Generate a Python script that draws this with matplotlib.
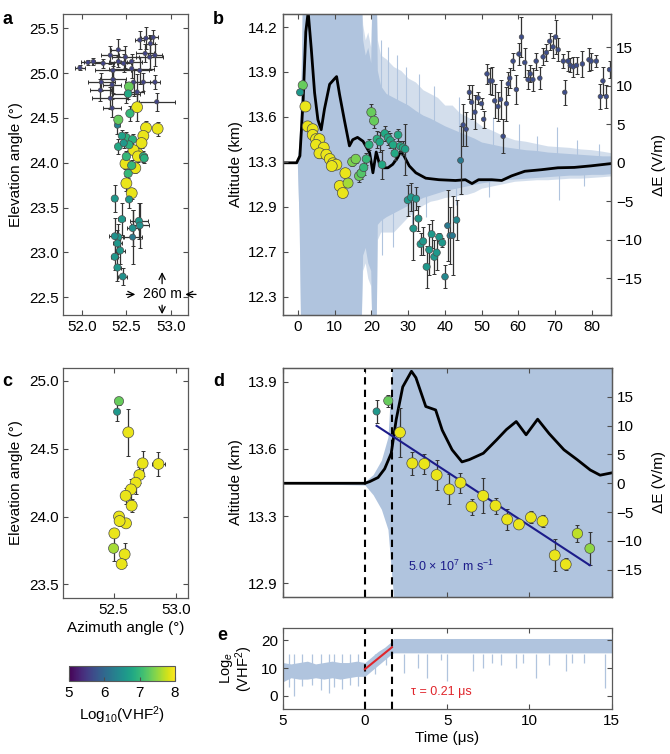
import numpy as np
import matplotlib
matplotlib.use('Agg')
import matplotlib.pyplot as plt
from matplotlib.colors import Normalize
from matplotlib.cm import ScalarMappable

plt.rcParams['font.family'] = ['Liberation Sans', 'DejaVu Sans']
plt.rcParams['mathtext.fontset'] = 'custom'
plt.rcParams['mathtext.rm'] = 'Liberation Sans'
plt.rcParams['mathtext.it'] = 'Liberation Sans:italic'
plt.rcParams['font.size'] = 11

# ---------------- panel a : sources in azimuth / elevation ----------------
# weak (late) sources
a_dark_az = [51.98, 52.13, 52.07, 52.24, 52.35, 52.41, 52.47, 52.56, 52.65, 52.72, 52.80, 52.71,
             52.82, 52.76, 52.41, 52.35, 52.22, 52.34, 52.32, 52.34, 52.21, 52.58, 52.69, 52.82,
             52.62, 52.84, 52.50, 52.65, 52.49, 52.77, 52.32, 52.56, 52.40]
a_dark_el = [25.06, 25.13, 25.12, 25.11, 25.03, 25.13, 25.11, 25.13, 25.37, 25.39, 25.40, 25.22,
             25.20, 25.18, 25.26, 24.93, 24.90, 24.87, 24.72, 24.61, 24.81, 24.90, 24.90, 24.90,
             24.79, 24.68, 24.77, 25.03, 25.18, 25.33, 25.20, 25.05, 24.42]
a_dark_az_err = [0.06, 0.10, 0.08, 0.12, 0.20, 0.10, 0.08, 0.12, 0.05, 0.06, 0.05, 0.10, 0.08,
                 0.15, 0.08, 0.15, 0.15, 0.10, 0.20, 0.10, 0.12, 0.10, 0.12, 0.06, 0.08, 0.20,
                 0.15, 0.10, 0.15, 0.05, 0.10, 0.25, 0.03]
a_dark_el_err = [0.03, 0.04, 0.03, 0.05, 0.08, 0.06, 0.10, 0.08, 0.10, 0.12, 0.08, 0.10, 0.12,
                 0.15, 0.12, 0.15, 0.10, 0.15, 0.12, 0.10, 0.12, 0.15, 0.10, 0.08, 0.20, 0.10,
                 0.10, 0.15, 0.12, 0.10, 0.10, 0.10, 0.10]
a_dark_v = [5.6] * 32 + [6.3]

# strong sources
a_az = [52.53, 52.52, 52.62, 52.54, 52.41, 52.72, 52.85, 52.45, 52.50, 52.69, 52.57, 52.67,
        52.41, 52.47, 52.53, 52.63, 52.58, 52.69, 52.50, 52.63, 52.70, 52.49, 52.56, 52.60,
        52.52, 52.50, 52.56, 52.53, 52.37, 52.45, 52.64, 52.57, 52.65, 52.57, 52.37, 52.41,
        52.40, 52.43, 52.37, 52.40, 52.46]
a_el = [24.85, 24.77, 24.62, 24.55, 24.48, 24.39, 24.38, 24.30, 24.28, 24.30, 24.26, 24.22,
        24.18, 24.22, 24.20, 24.10, 24.14, 24.07, 24.07, 24.07, 24.05, 23.99, 23.97, 23.94,
        23.88, 23.77, 23.66, 23.59, 23.60, 23.37, 23.35, 23.27, 23.30, 23.17, 23.18, 23.17,
        23.10, 23.02, 22.95, 22.83, 22.73]
a_az_err = [0.02, 0.02, 0.03, 0.02, 0.03, 0.03, 0.04, 0.02, 0.03, 0.03, 0.02, 0.03, 0.02,
            0.02, 0.03, 0.02, 0.02, 0.04, 0.02, 0.02, 0.03, 0.02, 0.02, 0.02, 0.02, 0.02,
            0.02, 0.03, 0.03, 0.04, 0.10, 0.06, 0.10, 0.10, 0.06, 0.05, 0.05, 0.05, 0.04,
            0.04, 0.05]
a_el_err = [0.03, 0.06, 0.15, 0.08, 0.05, 0.08, 0.08, 0.06, 0.06, 0.08, 0.06, 0.06, 0.08,
            0.06, 0.06, 0.06, 0.06, 0.06, 0.06, 0.06, 0.05, 0.06, 0.06, 0.05, 0.05, 0.08,
            0.06, 0.10, 0.15, 0.18, 0.20, 0.20, 0.25, 0.30, 0.20, 0.15, 0.15, 0.15, 0.15,
            0.15, 0.10]
a_v = [7.3, 6.8, 7.9, 7.0, 7.3, 7.9, 7.9, 6.7, 6.9, 7.9, 6.9, 7.9, 6.8, 6.6, 6.9, 7.9, 7.9,
       6.9, 7.0, 7.9, 6.9, 7.9, 7.0, 7.9, 7.0, 7.9, 7.9, 6.6, 6.6, 6.6, 6.6, 6.5, 6.5, 6.2,
       6.5, 6.6, 6.6, 6.6, 6.6, 6.6, 6.5]

# ---------------- panel b : altitude vs time, 0-85 us ----------------
b_t = [1.28, 0.55, 2.0, 2.62, 3.99, 3.99, 4.9, 5.82, 4.9, 7.0, 5.82, 7.71, 8.64, 9.54, 10.44,
       9.18, 12.89, 11.36, 13.62, 12.2,
       14.8, 15.72, 16.62, 17.25, 17.9, 18.6, 19.35, 19.98, 20.71, 21.53, 22.26, 22.89, 23.62,
       24.52, 25.15, 25.89, 26.36, 27.25, 27.87, 28.61, 29.2,
       29.9, 30.8, 32.15, 32.8, 31.43, 33.4, 34.1, 35.04, 35.75, 36.4, 37.13, 37.79, 38.5,
       39.3, 40.05, 40.76, 41.4, 42.1, 43.2, 44.3,
       45.0, 45.8, 46.7, 47.3, 48.2, 49.1, 50.0, 50.6, 51.5, 52.2, 52.9, 53.6, 54.5, 55.2,
       55.9, 56.8, 57.3, 57.7, 58.6, 59.5, 60.2, 60.9, 61.8, 62.7, 63.3, 64.0, 64.9, 65.9,
       66.8, 67.7, 68.6, 69.5, 70.2, 70.9, 72.3, 72.7, 73.6, 74.2, 75.0, 75.9, 77.5, 79.3,
       79.9, 81.3, 82.4, 83.1, 84.0, 84.9]
b_alt = [13.79, 13.74, 13.64, 13.50, 13.48, 13.44, 13.41, 13.41, 13.37, 13.35, 13.31, 13.30,
         13.27, 13.24, 13.23, 13.22, 13.17, 13.08, 13.10, 13.03,
         13.25, 13.27, 13.15, 13.17, 13.21, 13.27, 13.37, 13.60, 13.54, 13.41, 13.39, 13.23,
         13.45, 13.42, 13.40, 13.37, 13.31, 13.44, 13.36, 13.35, 13.34,
         12.98, 13.00, 12.99, 12.85, 12.78, 12.67, 12.69, 12.51, 12.63, 12.74, 12.58, 12.61,
         12.72, 12.68, 12.44, 12.80, 12.73, 12.73, 12.84, 13.26,
         13.51, 13.48, 13.74, 13.67, 13.60, 13.70, 13.66, 13.55, 13.87, 13.82, 13.82, 13.68,
         13.64, 13.69, 13.43, 13.66, 13.80, 13.84, 13.96, 13.76, 14.01, 14.13, 13.95, 13.83,
         13.87, 13.83, 13.96, 13.84, 13.99, 14.02, 14.10, 14.06, 14.13, 14.04, 13.96, 13.74,
         13.96, 13.93, 13.92, 13.93, 13.94, 13.97, 13.96, 13.96, 13.71, 13.82, 13.71, 13.90]
b_err = [0.02, 0.02, 0.03, 0.03, 0.03, 0.03, 0.03, 0.03, 0.03, 0.03, 0.03, 0.03, 0.03, 0.03,
         0.03, 0.03, 0.03, 0.03, 0.03, 0.03,
         0.03, 0.03, 0.04, 0.04, 0.05, 0.04, 0.04, 0.06, 0.05, 0.06, 0.07, 0.10, 0.05, 0.05,
         0.05, 0.04, 0.05, 0.04, 0.04, 0.05, 0.18,
         0.11, 0.10, 0.08, 0.09, 0.22, 0.08, 0.10, 0.15, 0.18, 0.10, 0.12, 0.12, 0.03, 0.03,
         0.08, 0.25, 0.20, 0.28, 0.14, 0.24,
         0.15, 0.12, 0.05, 0.12, 0.12, 0.04, 0.04, 0.06, 0.07, 0.09, 0.10, 0.12, 0.10, 0.14,
         0.12, 0.12, 0.08, 0.07, 0.06, 0.10, 0.08, 0.14, 0.10, 0.07, 0.06, 0.08, 0.06, 0.08,
         0.06, 0.06, 0.06, 0.08, 0.12, 0.08, 0.05, 0.09, 0.07, 0.05, 0.07, 0.06, 0.09, 0.08,
         0.06, 0.04, 0.09, 0.10, 0.08, 0.06]
b_v = ([7.3, 6.6] + [7.9] * 16 + [7.6, 7.9] +
       [7.4, 7.4, 7.3, 7.2, 7.0, 7.0, 6.9, 7.3, 7.3, 6.9, 6.8, 6.8, 6.8, 6.8, 6.8, 6.8, 6.8,
        6.8, 6.8, 6.8, 6.7] +
       [6.6] * 14 + [6.4, 6.2, 6.2, 6.2, 6.4, 6.2] +
       [5.7] * 48)

# electric field change (right axis), V/m
b_field_t = [-4.2, -0.4, 0.5, 1.4, 2.1, 2.75, 3.6, 4.5, 5.4, 6.3, 7.2, 8.6, 9.9, 10.5, 11.3,
             12.6, 14.0, 14.9, 16.2, 17.7, 19.5, 20.4, 21.3, 22.2, 23.1, 24.5, 25.8, 27.1,
             28.0, 28.9, 30.3, 32.1, 34.8, 38.4, 42.9, 45.6, 47.4, 49.2, 52.8, 55.5, 58.2,
             61.8, 66.3, 70.8, 75.3, 79.8, 85.4]
b_field = [0, 0, 0.9, 8.3, 17, 19.6, 14.8, 9.1, 5.6, 4.3, 7.0, 10.2, 10.9, 11.2, 8.9, 5.6, 2.2,
           3.0, 3.3, 2.8, 1.3, -1.3, 1.4, -0.2, -0.65, -0.65, -0.2, 0.65, 1.5, 0.87, -0.4,
           -1.3, -2.0, -2.2, -2.3, -2.2, -2.7, -2.2, -2.2, -2.3, -1.7, -1.1, -0.9, -0.65, -0.6,
           -0.4, -0.1]

# VHF waveform: outer (sparse tips) and core (dense) envelopes, on the field axis
b_vhf_t = [-4.2, -0.2, 0.3, 0.8, 1.3, 17.0, 17.6, 18.3, 19.0, 19.8, 20.3, 20.6, 21.2, 21.6,
           22.5, 24, 26, 28, 30, 32, 34, 36, 38, 40, 42, 44, 46, 48, 50, 53, 56, 59, 62, 65,
           68, 71, 74, 77, 80, 83, 85.4]
b_vhf_hi = [0, 0.1, 3, 10, 25, 25, 18, 16, 17, 15, 25, 25, 25, 16, 14, 13.5, 12.5, 12, 11,
            10.5, 9.5, 9, 8.5, 7.5, 7.5, 6.5, 6, 5.5, 4.8, 4.2, 3.5, 3.0, 2.8, 2.5, 2.2, 2.1,
            2.0, 1.8, 1.7, 1.5, 1.3]
b_vhf_lo = [0, -0.1, -8, -25, -25, -25, -14, -13, -15, -16, -25, -25, -25, -10, -9, -9, -9,
            -8, -7, -6.2, -5.5, -5, -4.8, -4.5, -4.4, -4.2, -4.1, -3.8, -3.3, -3.0, -2.7, -2.4,
            -2.3, -2.2, -2.2, -2.1, -2.0, -2.0, -1.9, -1.8, -1.7]
b_core_hi = [0, 0.1, 3, 10, 25, 25, 16, 14, 15, 13, 25, 25, 25, 12, 10, 9, 8.5, 8, 7.5, 6.8,
             6.2, 5.8, 5.3, 4.8, 4.4, 4.0, 3.6, 3.2, 2.7, 2.4, 2.1, 1.9, 1.7, 1.6, 1.4, 1.3,
             1.2, 1.1, 1.0, 0.9, 0.9]
b_core_lo = [0, -0.1, -8, -25, -25, -25, -12, -11, -13, -14, -25, -25, -25, -8, -7.5, -7,
             -6.5, -6, -5.5, -5, -4.5, -4.2, -3.9, -3.6, -3.4, -3.2, -3.0, -2.8, -2.6, -2.4,
             -2.2, -2.1, -2.0, -1.9, -1.8, -1.7, -1.6, -1.6, -1.5, -1.5, -1.4]
b_spike_t = [22.6, 23.0, 24.5, 26.0, 27.0, 29.5, 31.0, 33.0, 35.0, 37.0, 43.0, 44.0, 52.0,
             53.0, 60.3, 65.0, 70.7, 71.2, 76.0, 78.0, 82.0]
b_spike_v = [16, -12, 15, -11, 14, 12.5, -8, 11.5, -7, 10, -5.5, 8.5, -4.5, 6, 5, 3.5, 4.6,
             -4.8, 3, -3, 2.5]

# ---------------- panel c ----------------
c_az = [52.543, 52.528, 52.617, 52.731, 52.857, 52.705, 52.676, 52.639, 52.596, 52.644,
        52.543, 52.599, 52.548, 52.506, 52.50, 52.588, 52.564]
c_el = [24.85, 24.772, 24.62, 24.392, 24.387, 24.306, 24.249, 24.20, 24.153, 24.08, 24.0,
        23.95, 23.967, 23.876, 23.766, 23.722, 23.65]
c_az_err = [0.02, 0.0, 0.03, 0.0, 0.05, 0.0, 0.0, 0.0, 0.0, 0.0, 0.0, 0.0, 0.0, 0.0, 0.0,
            0.0, 0.03]
c_el_err = [0.03, 0.065, 0.175, 0.09, 0.09, 0.06, 0.08, 0.08, 0.06, 0.05, 0.03, 0.03, 0.04,
            0.03, 0.09, 0.08, 0.03]
c_v = [7.3, 6.6, 7.9, 7.9, 7.9, 7.9, 7.9, 7.9, 7.9, 7.9, 7.9, 7.9, 7.9, 7.9, 7.6, 7.9, 7.9]

# ---------------- panel d : first 15 us ----------------
d_t = [0.71, 1.42, 2.13, 2.88, 3.61, 4.36, 5.13, 5.81, 6.48, 7.19, 7.94, 8.65, 9.36, 10.09,
       10.8, 11.54, 12.21, 12.92, 13.67]
d_alt = [13.752, 13.805, 13.648, 13.495, 13.492, 13.437, 13.366, 13.399, 13.28, 13.334,
         13.285, 13.217, 13.192, 13.227, 13.208, 13.039, 12.994, 13.147, 13.073]
d_err = [0.056, 0.03, 0.12, 0.058, 0.05, 0.075, 0.075, 0.05, 0.04, 0.087, 0.04, 0.05, 0.02,
         0.03, 0.03, 0.08, 0.03, 0.04, 0.08]
d_v = [6.6, 7.3] + [7.9] * 15 + [7.7, 7.5]
d_fit_t = [0.71, 13.67]
d_fit_alt = [13.681, 12.99]
d_field_t = [-5, 0, 0.3, 0.8, 1.2, 1.6, 1.9, 2.3, 2.83, 3.1, 3.7, 4.3, 4.7, 5.3, 5.9, 6.35,
             7.2, 8.0, 8.6, 9.2, 9.8, 10.5, 11.2, 12.1, 12.9, 13.7, 14.3, 15]
d_field = [0, 0, 0.3, 1.0, 2.5, 5.2, 11, 16.7, 19.4, 18.3, 13.3, 12.7, 9.2, 5.8, 3.7, 4.1,
           5.2, 7.5, 9.3, 10.7, 8.4, 11.1, 8.6, 5.8, 4.1, 2.3, 1.4, 1.8]
d_vhf_t = [-5, 0, 0.5, 1.0, 1.4, 1.75, 2.0, 15]
d_vhf_hi = [0, 0.3, 1.5, 4, 8, 25, 25, 25]
d_vhf_lo = [0, -0.3, -2, -4.5, -8, -20, -25, -25]
t_start, t_end = 0.0, 1.64

# ---------------- panel e : log VHF power ----------------
e_t = [-5, -4.5, -4, -3.5, -3, -2.5, -2, -1.5, -1, -0.5, 0, 0.4, 0.8, 1.2, 1.6, 1.75, 2.5, 5,
       10, 15]
e_hi = [12, 11.5, 12, 12.5, 11.5, 12, 12.5, 12, 12, 12.5, 12, 14, 16, 17.5, 19.5, 20.7, 20.7,
        20.7, 20.7, 20.7]
e_lo = [5, 6.5, 6, 6, 6.5, 6, 6.5, 6, 6.5, 7, 7, 9, 11, 13, 15, 15.5, 15.5, 15.5, 15.5, 15.5]
e_spike_t = [-4.6, -4.3, -3.8, -3.2, -2.7, -2.2, -1.9, -1.4, -0.9, -0.4, 0.6, 1.3, 2.35, 3.2,
             3.8, 4.6, 5.0, 6.6, 7.2, 7.7, 8.3, 9.2, 9.6, 10.4, 11.2, 12.2, 12.6, 13.3, 14.6]
e_spike_v = [3, 0, 3.5, 4, 2, 1, 3, 2.5, 4, 3.5, 8, 11, 8.3, 10, 6.4, 13, 5.3, 9, 10, 12, 11,
             10, 12, 6.5, 11, 9, 12, 12, 2.7]
e_fit_t = [0.0, 1.64]
e_fit_v = [9.6, 17.5]

# ---------------- drawing ----------------
VHF_BLUE = '#b0c4de'
norm = Normalize(5, 8)
cmap = plt.get_cmap('viridis')


def msize(v):
    d = 4.0 + (np.asarray(v) - 5.5) * 2.9
    return (0.72 * d) ** 2


def style(ax):
    for s in ax.spines.values():
        s.set_color('0.35')
        s.set_linewidth(0.9)
    ax.tick_params(direction='in', length=3.5, width=0.8, color='0.3', labelsize=11)


def sources(ax, x, y, v, xerr=None, yerr=None):
    ax.errorbar(x, y, xerr=xerr, yerr=yerr, fmt='none', ecolor='0.2', elinewidth=0.9,
                capsize=1.6, capthick=0.7, zorder=2)
    ax.scatter(x, y, c=v, cmap=cmap, norm=norm, s=msize(v), edgecolors='0.3',
               linewidths=0.5, zorder=3)


fig = plt.figure(figsize=(6.7, 7.54), dpi=100)

# panel a
ax_a = fig.add_axes([0.0945, 0.5822, 0.1857, 0.3992])
sources(ax_a, a_dark_az, a_dark_el, a_dark_v, a_dark_az_err, a_dark_el_err)
order = np.argsort(-np.asarray(a_v), kind='stable')
sources(ax_a, np.asarray(a_az)[order], np.asarray(a_el)[order], np.asarray(a_v)[order],
        np.asarray(a_az_err)[order], np.asarray(a_el_err)[order])
ax_a.set_xlim(51.794, 53.187)
ax_a.set_ylim(22.30, 25.66)
ax_a.set_xticks([52.0, 52.5, 53.0])
ax_a.set_yticks(np.arange(22.5, 25.6, 0.5))
ax_a.xaxis.set_major_formatter('{x:.1f}')
ax_a.yaxis.set_major_formatter('{x:.1f}')
style(ax_a)
ax_a.tick_params(top=True, right=True)
ax_a.set_ylabel('Elevation angle (°)', labelpad=4)
arr = dict(arrowstyle='->', lw=0.9, color='black', shrinkA=0, shrinkB=0)
ax_a.annotate('', xy=(52.60, 22.53), xytext=(52.50, 22.53), arrowprops=arr)
ax_a.annotate('', xy=(53.16, 22.53), xytext=(53.28, 22.53), arrowprops=arr,
              annotation_clip=False)
ax_a.annotate('', xy=(52.90, 22.78), xytext=(52.90, 22.65), arrowprops=arr)
ax_a.annotate('', xy=(52.90, 22.31), xytext=(52.90, 22.41), arrowprops=arr)
ax_a.text(52.69, 22.53, '260 m', fontsize=10, va='center', ha='left')

# panel b
ax_b = fig.add_axes([0.4219, 0.5822, 0.4906, 0.3992])
ax_b2 = ax_b.twinx()
ax_b2.fill_between(b_vhf_t, b_vhf_lo, b_vhf_hi, color=VHF_BLUE, alpha=0.55, lw=0, zorder=1)
ax_b2.fill_between(b_vhf_t, b_core_lo, b_core_hi, color=VHF_BLUE, lw=0, zorder=1)
ax_b2.vlines(b_spike_t, 0, b_spike_v, color=VHF_BLUE, lw=0.8, zorder=1)
ax_b2.plot(b_field_t, b_field, color='black', lw=2.0, zorder=2)
ax_b2.set_ylim(-19.78, 19.33)
ax_b2.set_yticks([-15, -10, -5, 0, 5, 10, 15])
ax_b2.yaxis.set_major_formatter(lambda x, p: f'{x:.0f}'.replace('-', '\u2212'))
ax_b2.set_ylabel('ΔE (V/m)', labelpad=7)
style(ax_b2)
ax_b.set_zorder(ax_b2.get_zorder() + 1)
ax_b.patch.set_visible(False)
sources(ax_b, b_t, b_alt, b_v, yerr=b_err)
ax_b.set_xlim(-4.2, 85.4)
ax_b.set_ylim(12.170, 14.292)
ax_b.set_xticks(np.arange(0, 81, 10))
ax_b.set_yticks(np.linspace(12.3, 14.2, 7))
ax_b.set_yticklabels(['12.3', '12.7', '12.9', '13.3', '13.6', '13.9', '14.2'])
style(ax_b)
ax_b.tick_params(top=True)
ax_b.set_ylabel('Altitude (km)', labelpad=4)

# panel c
ax_c = fig.add_axes([0.0945, 0.2069, 0.1857, 0.3050])
sources(ax_c, c_az, c_el, c_v, c_az_err, c_el_err)
ax_c.set_xlim(52.10, 53.09)
ax_c.set_ylim(23.40, 25.094)
ax_c.set_xticks([52.5, 53.0])
ax_c.set_yticks([23.5, 24.0, 24.5, 25.0])
ax_c.xaxis.set_major_formatter('{x:.1f}')
ax_c.yaxis.set_major_formatter('{x:.1f}')
style(ax_c)
ax_c.tick_params(top=True, right=True)
ax_c.set_ylabel('Elevation angle (°)', labelpad=4)
ax_c.set_xlabel('Azimuth angle (°)', labelpad=3)

# colorbar
cax = fig.add_axes([0.103, 0.0968, 0.1582, 0.0199])
cb = fig.colorbar(ScalarMappable(norm=norm, cmap=cmap), cax=cax, orientation='horizontal',
                  ticks=[5, 6, 7, 8])
cb.outline.set_edgecolor('0.35')
cax.tick_params(direction='in', length=3, width=0.8, color='0.3', labelsize=11)
cb.set_label('Log$_{10}$(VHF$^2$)', fontsize=11, labelpad=3)

# panel d
ax_d = fig.add_axes([0.4219, 0.2078, 0.4910, 0.3046])
ax_d2 = ax_d.twinx()
ax_d2.fill_between(d_vhf_t, d_vhf_lo, d_vhf_hi, color=VHF_BLUE, lw=0, zorder=1)
ax_d2.plot(d_field_t, d_field, color='black', lw=2.0, zorder=2)
ax_d2.set_ylim(-19.76, 20.03)
ax_d2.set_yticks([-15, -10, -5, 0, 5, 10, 15])
ax_d2.yaxis.set_major_formatter(lambda x, p: f'{x:.0f}'.replace('-', '\u2212'))
ax_d2.set_ylabel('ΔE (V/m)', labelpad=7)
style(ax_d2)
ax_d.set_zorder(ax_d2.get_zorder() + 1)
ax_d.patch.set_visible(False)
for tv in (t_start, t_end):
    ax_d.axvline(tv, color='black', lw=1.5, ls=(0, (3.5, 2.5)), zorder=2)
ax_d.plot(d_fit_t, d_fit_alt, color='#1c1c8a', lw=1.5, zorder=2.5)
sources(ax_d, d_t, d_alt, d_v, yerr=d_err)
ax_d.text(2.6, 12.985, '5.0 × 10$^7$ m s$^{-1}$', color='#1c1c8a', fontsize=9, va='center')
ax_d.set_xlim(-5, 15)
ax_d.set_ylim(12.831, 13.969)
ax_d.set_xticks([-5, 0, 5, 10, 15])
ax_d.set_xticklabels([])
ax_d.set_yticks(np.linspace(12.9, 13.9, 4))
ax_d.set_yticklabels(['12.9', '13.3', '13.6', '13.9'])
style(ax_d)
ax_d.tick_params(top=True)
ax_d.set_ylabel('Altitude (km)', labelpad=4)

# panel e
ax_e = fig.add_axes([0.4219, 0.0597, 0.4910, 0.1078])
ax_e.fill_between(e_t, e_lo, e_hi, color=VHF_BLUE, lw=0, zorder=1)
ax_e.vlines(e_spike_t, e_spike_v, 15, color=VHF_BLUE, lw=0.9, zorder=1)
for tv in (t_start, t_end):
    ax_e.axvline(tv, color='black', lw=1.5, ls=(0, (3.5, 2.5)), zorder=2)
ax_e.plot(e_fit_t, e_fit_v, color='#e0252b', lw=1.5, zorder=3)
ax_e.text(2.8, 1.3, 'τ = 0.21 μs', color='#e0252b', fontsize=9, va='center')
ax_e.set_xlim(-5, 15)
ax_e.set_ylim(-4.8, 24.6)
ax_e.set_xticks([-5, 0, 5, 10, 15])
ax_e.set_xticklabels(['5', '0', '5', '10', '15'])
ax_e.set_yticks([0, 10, 20])
style(ax_e)
ax_e.tick_params(top=True, right=True)
ax_e.set_xlabel('Time (μs)', labelpad=2)
ax_e.set_ylabel('Log$_e$\n(VHF$^2$)', fontsize=10.5, labelpad=4, linespacing=0.9)

# panel letters
for lbl, x, y in [('a', 0.004, 0.985), ('b', 0.318, 0.985), ('c', 0.004, 0.505),
                  ('d', 0.318, 0.505), ('e', 0.324, 0.168)]:
    fig.text(x, y, lbl, fontsize=13, fontweight='bold', va='top', ha='left')

fig.savefig('out.png', dpi=100)
